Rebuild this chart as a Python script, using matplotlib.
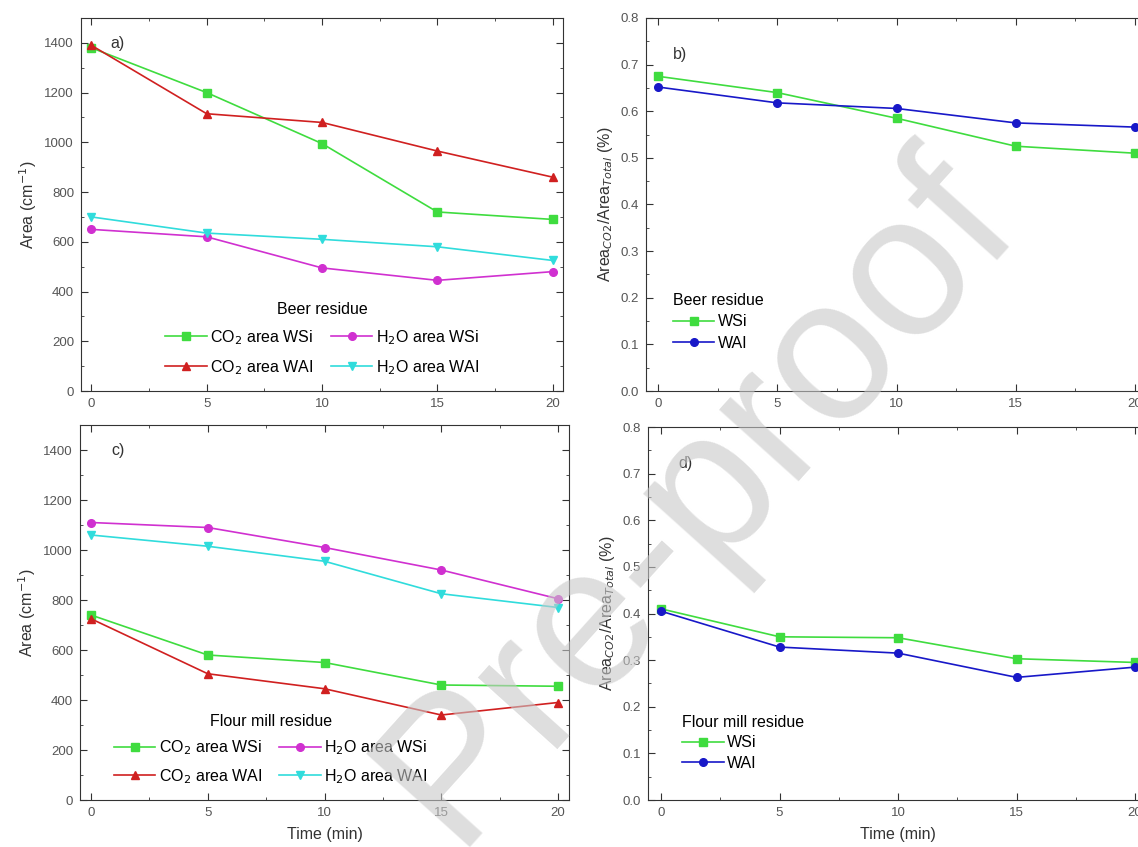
import matplotlib
matplotlib.use("Agg")
import matplotlib.pyplot as plt
from matplotlib.ticker import MultipleLocator

plt.rcParams['font.family'] = ['Liberation Sans', 'DejaVu Sans']

# data
time = [0, 5, 10, 15, 20]

# a) beer residue areas
beer_co2_wsi = [1380, 1200, 995, 720, 690]
beer_co2_wai = [1390, 1115, 1080, 965, 860]
beer_h2o_wsi = [650, 620, 495, 445, 480]
beer_h2o_wai = [700, 635, 610, 580, 525]

# b) beer residue ratio
beer_ratio_wsi = [0.675, 0.640, 0.585, 0.525, 0.510]
beer_ratio_wai = [0.652, 0.618, 0.606, 0.575, 0.566]

# c) flour mill residue areas
flour_co2_wsi = [740, 580, 550, 460, 455]
flour_co2_wai = [725, 505, 445, 340, 390]
flour_h2o_wsi = [1110, 1090, 1010, 920, 805]
flour_h2o_wai = [1060, 1015, 955, 825, 770]

# d) flour mill residue ratio
flour_ratio_wsi = [0.410, 0.350, 0.348, 0.303, 0.295]
flour_ratio_wai = [0.405, 0.328, 0.315, 0.263, 0.285]

W, H = 1138, 847
fig = plt.figure(figsize=(W / 100, H / 100), dpi=100)

def px_axes(left, top, right, bottom):
    return fig.add_axes([left / W, 1 - bottom / H, (right - left) / W, (bottom - top) / H])

green = '#3fdc3f'
red = '#d02020'
magenta = '#d030d0'
cyan = '#30dcdc'
blue = '#1818c8'
txt = '#333333'

def style(ax, ymaj, ymin):
    ax.xaxis.set_major_locator(MultipleLocator(5))
    ax.xaxis.set_minor_locator(MultipleLocator(2.5))
    ax.yaxis.set_major_locator(MultipleLocator(ymaj))
    ax.yaxis.set_minor_locator(MultipleLocator(ymin))
    ax.tick_params(which='both', direction='in', top=True, right=True, labelsize=9.5,
                   colors=txt, labelcolor='#555555')
    ax.tick_params(which='major', length=5, pad=5)
    ax.tick_params(which='minor', length=2.5)
    for s in ax.spines.values():
        s.set_color(txt)

kw = dict(lw=1.2, ms=5.5)
lab = dict(fontsize=11.5, color=txt)
legkw = dict(frameon=False, title_fontsize=11.5, fontsize=11.5, handlelength=2.6,
             handletextpad=0.2)

# panel a
ax = px_axes(81, 18, 563, 391)
ax.plot(time, beer_co2_wsi, '-s', color=green, label='CO$_2$ area WSi', **kw)
ax.plot(time, beer_co2_wai, '-^', color=red, label='CO$_2$ area WAI', **kw)
ax.plot(time, beer_h2o_wsi, '-o', color=magenta, label='H$_2$O area WSi', **kw)
ax.plot(time, beer_h2o_wai, '-v', color=cyan, label='H$_2$O area WAI', **kw)
ax.set_xlim(-0.45, 20.45)
ax.set_ylim(0, 1500)
style(ax, 200, 100)
ax.set_ylabel('Area (cm$^{-1}$)', **lab)
ax.text(0.06, 0.92, 'a)', transform=ax.transAxes, **lab)
ax.legend(loc='lower center', bbox_to_anchor=(0.5, 0.0), ncol=2, title='Beer residue',
          columnspacing=1.1, labelspacing=0.7, **legkw)

# panel b
ax = px_axes(646, 18, 1147, 391)
ax.plot(time, beer_ratio_wsi, '-s', color=green, label='WSi', **kw)
ax.plot(time, beer_ratio_wai, '-o', color=blue, label='WAI', **kw)
ax.set_xlim(-0.5, 20.5)
ax.set_ylim(0, 0.8)
style(ax, 0.1, 0.05)
ax.set_ylabel('Area$_{CO2}$/Area$_{Total}$ (%)', **lab)
ax.text(0.053, 0.89, 'b)', transform=ax.transAxes, **lab)
leg = ax.legend(loc='lower left', bbox_to_anchor=(0.025, 0.07), title='Beer residue',
                labelspacing=0.4, **legkw)
leg._legend_box.align = 'left'

# panel c
ax = px_axes(80, 425, 569, 800)
ax.plot(time, flour_co2_wsi, '-s', color=green, label='CO$_2$ area WSi', **kw)
ax.plot(time, flour_co2_wai, '-^', color=red, label='CO$_2$ area WAI', **kw)
ax.plot(time, flour_h2o_wsi, '-o', color=magenta, label='H$_2$O area WSi', **kw)
ax.plot(time, flour_h2o_wai, '-v', color=cyan, label='H$_2$O area WAI', **kw)
ax.set_xlim(-0.47, 20.47)
ax.set_ylim(0, 1500)
style(ax, 200, 100)
ax.set_ylabel('Area (cm$^{-1}$)', **lab)
ax.set_xlabel('Time (min)', labelpad=6, **lab)
ax.text(0.065, 0.92, 'c)', transform=ax.transAxes, **lab)
ax.legend(loc='lower center', bbox_to_anchor=(0.39, 0.0), ncol=2, title='Flour mill residue',
          columnspacing=1.1, labelspacing=0.6, **legkw)

# panel d
ax = px_axes(648, 427, 1147, 800)
ax.plot(time, flour_ratio_wsi, '-s', color=green, label='WSi', **kw)
ax.plot(time, flour_ratio_wai, '-o', color=blue, label='WAI', **kw)
ax.set_xlim(-0.55, 20.5)
ax.set_ylim(0, 0.8)
style(ax, 0.1, 0.05)
ax.set_ylabel('Area$_{CO2}$/Area$_{Total}$ (%)', **lab)
ax.set_xlabel('Time (min)', labelpad=6, **lab)
ax.text(0.06, 0.89, 'd)', transform=ax.transAxes, **lab)
leg = ax.legend(loc='lower left', bbox_to_anchor=(0.04, 0.04), title='Flour mill residue',
                labelspacing=0.35, **legkw)
leg._legend_box.align = 'left'

# watermark
fig.text(0.612, 0.412, 'Pre-proof', fontsize=146, rotation=48, color='#c8c8c8', alpha=0.6,
         ha='center', va='center')

fig.savefig('out.png', dpi=100)
